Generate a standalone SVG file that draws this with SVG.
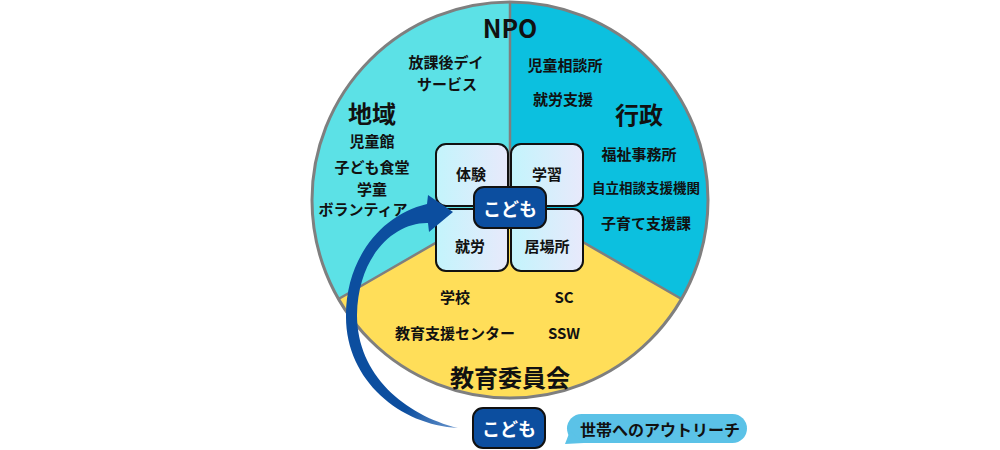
<svg xmlns="http://www.w3.org/2000/svg" width="1000" height="450" viewBox="0 0 1000 450">
<defs>
<linearGradient id="boxg" x1="0" y1="0" x2="1" y2="0">
<stop offset="0" stop-color="#C3F4FC"/>
<stop offset="1" stop-color="#E8E9FB"/>
</linearGradient>
<linearGradient id="tailg" gradientUnits="userSpaceOnUse" x1="400" y1="380" x2="460" y2="430">
<stop offset="0.3" stop-color="#0C4E9F"/>
<stop offset="1" stop-color="#6F9AD0"/>
</linearGradient>
</defs>
<style>
text{font-family:"Noto Sans CJK JP","Noto Sans",sans-serif;font-weight:700;fill:#111;text-anchor:middle;dominant-baseline:central}
.s{font-size:15px}
.xs{font-size:13.5px}
.l{font-size:24px}
.box{fill:url(#boxg);stroke:#111;stroke-width:2}
.kid{fill:#0C4E9F;stroke:#111;stroke-width:2}
.kt{fill:#fff;font-size:18px}
.div{stroke:#7F7F7F;stroke-width:2.5;fill:none}
</style>
<g id="sectors">
<path id="chiiki" d="M510,200 L510,2 A198,198 0 0 0 338.5,299 Z" fill="#5CE1E6"/>
<path id="gyosei" d="M510,200 L510,2 A198,198 0 0 1 681.5,299 Z" fill="#0CC0DF"/>
<path id="kyoiku" d="M510,200 L681.5,299 A198,198 0 0 1 338.5,299 Z" fill="#FFDE59"/>
<path class="div" d="M510,2 L510,200 M338.5,299 L510,200 L681.5,299"/>
<circle cx="510" cy="200" r="198" fill="none" stroke="#7F7F7F" stroke-width="3"/>
</g>
<g id="labels">
<text x="510" y="27" style="font-size:25px">NPO</text>
<text class="s" x="446" y="61">放課後デイ</text>
<text class="s" x="447" y="83">サービス</text>
<text class="s" x="565" y="64">児童相談所</text>
<text class="s" x="563" y="98">就労支援</text>
<text class="l" x="372" y="112">地域</text>
<text class="l" x="639" y="113">行政</text>
<text class="s" x="372" y="140">児童館</text>
<text class="s" x="372" y="166.5">子ども食堂</text>
<text class="s" x="372" y="188.5">学童</text>
<text class="s" x="363" y="208.5">ボランティア</text>
<text class="s" x="639" y="153">福祉事務所</text>
<text class="xs" x="646" y="186.5">自立相談支援機関</text>
<text class="s" x="646" y="222">子育て支援課</text>
<text class="s" x="455" y="296.5">学校</text>
<text class="s" x="564" y="296.5">SC</text>
<text class="s" x="455" y="332">教育支援センター</text>
<text class="s" x="564" y="332">SSW</text>
<text class="l" x="510" y="376">教育委員会</text>
</g>
<g id="boxes">
<g id="taiken"><rect class="box" x="436" y="144" width="72" height="62" rx="10"/><text class="s" x="471" y="173.5">体験</text></g>
<g id="gakushu"><rect class="box" x="511" y="144" width="72" height="62" rx="10"/><text class="s" x="547" y="173.5">学習</text></g>
<g id="shuro"><rect class="box" x="436" y="209" width="72" height="62" rx="10"/><text class="s" x="470" y="245">就労</text></g>
<g id="ibasho"><rect class="box" x="511" y="209" width="72" height="62" rx="10"/><text class="s" x="547" y="245">居場所</text></g>
</g>
<g id="connectors">
<path id="arrow" fill="url(#tailg)" d="M458,428 C400,425 345,380 346,315 C346,260 380,215 427,204 L428,195 L453,212 L429,232 L428,223 C395,222 358,255 357,315 C357,375 405,415 458,428 Z"/>
</g>
<g id="kodomo-center">
<rect class="kid" x="474" y="187" width="72" height="41" rx="10"/>
<text class="kt" x="510" y="207.5">こども</text>
</g>
<g id="kodomo-bottom">
<rect class="kid" x="473" y="408" width="72" height="40" rx="10"/>
<text class="kt" x="509" y="428">こども</text>
</g>
<g id="outreach">
<rect x="567" y="414" width="180" height="29" rx="14.5" fill="#5BC2E7"/>
<polygon points="565,444 584,443 570,431" fill="#5BC2E7"/>
<text x="660" y="428.5" style="font-size:16px">世帯へのアウトリーチ</text>
</g>
</svg>
